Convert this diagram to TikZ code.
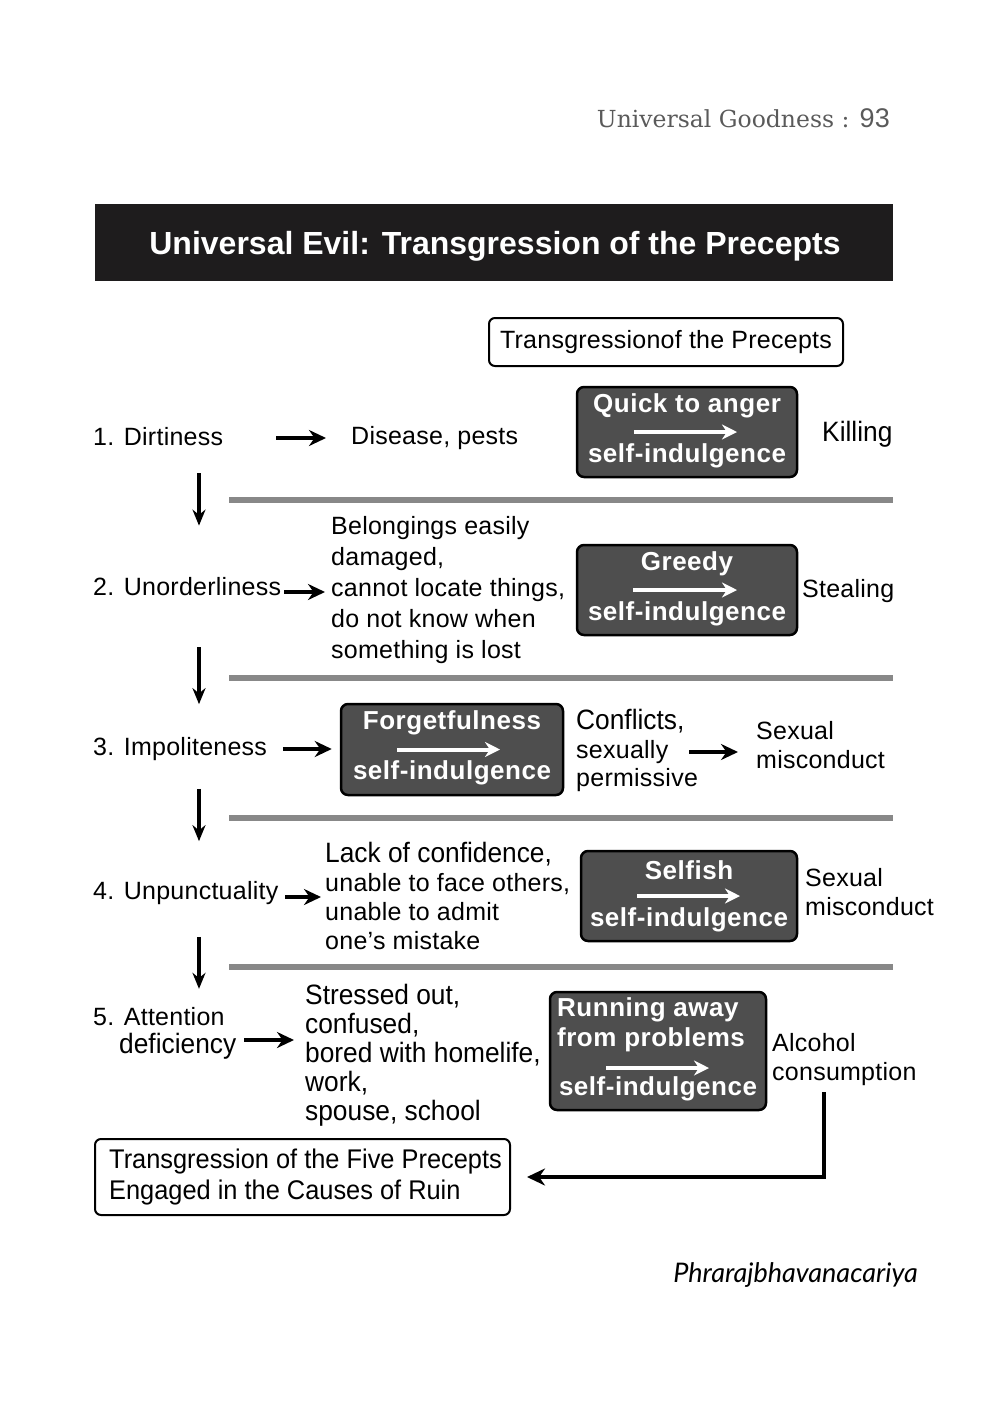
\documentclass[tikz,border=0pt]{standalone}
\usepackage{fontspec}
\usetikzlibrary{arrows.meta,calc}
\setmainfont{Liberation Sans}
\newfontfamily\regf{Liberation Sans}[LetterSpace=1]
\newfontfamily\boldf{Liberation Sans}[LetterSpace=2]
\newfontfamily\narf{Liberation Sans}[FakeStretch=0.94]
\newfontfamily\serf{DejaVu Serif}
\newfontfamily\sigf{Lato}
\definecolor{boxgray}{RGB}{78,78,78}
\definecolor{bargray}{RGB}{136,136,136}
\definecolor{headgray}{RGB}{90,90,90}
\definecolor{banner}{RGB}{30,28,29}
\tikzset{
  txt/.style={font=\regf\fontsize{25}{31}\selectfont, inner sep=0pt, align=left},
  nar/.style={font=\narf\fontsize{28}{29}\selectfont, inner sep=0pt, align=left},
  dbox/.style={draw=black, line width=2.5pt, fill=boxgray, rounded corners=7pt, inner sep=0pt},
  btxt/.style={font=\boldf\bfseries\fontsize{26}{30}\selectfont, text=white, inner sep=0pt, align=left},
  warr/.style={white, line width=4pt, -{Stealth[length=15pt,width=15pt]}},
  harr/.style={black, line width=4pt, -{Stealth[length=17pt,width=16pt]}},
  varr/.style={black, line width=3.5pt, -{Stealth[length=16pt,width=13pt]}},
  graybar/.style={bargray, line width=6pt},
  wbox/.style={draw=black, line width=2pt, rounded corners=6pt, inner sep=0pt},
}
\begin{document}
\begin{tikzpicture}[x=1pt,y=-1pt]
\useasboundingbox (0,0) rectangle (1000,1419);
% header
\node[anchor=east, inner sep=0pt, text=headgray] (hdr) at (890,118)
  {\serf\fontsize{23.5}{28}\selectfont Universal Goodness : {\regf\fontsize{27}{28}\selectfont 93}};
% banner
\node[fill=banner, minimum width=798pt, minimum height=77pt, inner sep=0pt] (ban) at (494,242.5) {};
\node[text=white, inner sep=0pt, font=\bfseries\fontsize{32}{36}\selectfont] (bant) at (495,246)
  {Universal Evil: Transgression of the Precepts};
% top box
\node[wbox, minimum width=354pt, minimum height=48pt] (top) at (666,342) {};
\node[txt] (topt) at (666,342) {Transgressionof the Precepts};
% bars
\coordinate (bl1) at (229,500); \coordinate (br1) at (893,500);
\coordinate (bl2) at (229,678); \coordinate (br2) at (893,678);
\coordinate (bl3) at (229,818); \coordinate (br3) at (893,818);
\coordinate (bl4) at (229,967); \coordinate (br4) at (893,967);
\draw[graybar] (bl1) -- (br1);
\draw[graybar] (bl2) -- (br2);
\draw[graybar] (bl3) -- (br3);
\draw[graybar] (bl4) -- (br4);
% row 1
\node[txt, anchor=west] (r1) at (93,437) {1. Dirtiness};
\node[txt, anchor=west] (r1t) at (351,438) {Disease, pests};
\node[dbox, minimum width=220pt, minimum height=90pt] (b1) at (687,432) {};
\node[btxt] (b1a) at (687,406) {Quick to anger};
\node[btxt] (b1b) at (687,456) {self-indulgence};
\draw[warr] ($(b1)+(-53,0)$) -- ($(b1)+(50,0)$);
\node[nar, anchor=west] (r1r) at (822,434) {Killing};
\draw[harr] ($(r1t.west |- 0,438)+(-75,0)$) -- ($(r1t.west |- 0,438)+(-25,0)$);
% row 2
\node[txt, anchor=west] (r2) at (93,587) {2. Unorderliness};
\node[txt, anchor=west] (r2t) at (331,590) {Belongings easily\\damaged,\\cannot locate things,\\do not know when\\something is lost};
\node[dbox, minimum width=220pt, minimum height=90pt] (b2) at (687,590) {};
\node[btxt] (b2a) at (687,564) {Greedy};
\node[btxt] (b2b) at (687,614) {self-indulgence};
\draw[warr] ($(b2)+(-54,0)$) -- ($(b2)+(50,0)$);
\node[txt, anchor=west] (r2r) at (802,591) {Stealing};
\draw[harr, shorten >=6pt] ($(r2t.west |- 0,592)+(-47,0)$) -- (r2t.west |- 0,592);
% row 3
\node[txt, anchor=west] (r3) at (93,749) {3. Impoliteness};
\node[dbox, minimum width=222pt, minimum height=91pt] (b3) at (452,749.5) {};
\node[btxt] (b3a) at (452,723) {Forgetfulness};
\node[btxt] (b3b) at (452,773) {self-indulgence};
\draw[warr] ($(b3)+(-55,0)$) -- ($(b3)+(48,0)$);
\node[txt, anchor=west] (r3t) at (576,750) {{\narf\fontsize{28}{29}\selectfont Conflicts,}\\[-2pt]sexually\\[-3pt]permissive};
\node[txt, anchor=west] (r3r) at (756,745) {Sexual\\[-2pt]misconduct};
\draw[harr, shorten >=8pt] ($(b3.west |- 0,749)+(-57,0)$) -- (b3.west |- 0,749);
\draw[harr, shorten >=18pt] ($(r3r.west |- 0,752)+(-67,0)$) -- (r3r.west |- 0,752);
% row 4
\node[txt, anchor=west] (r4) at (93,893) {4. Unpunctuality};
\node[txt, anchor=west] (r4t) at (325,896) {{\narf\fontsize{28}{29}\selectfont Lack of confidence,}\\[-2pt]unable to face others,\\[-2pt]unable to admit\\[-2pt]one’s mistake};
\node[dbox, minimum width=216pt, minimum height=90pt] (b4) at (689,896) {};
\node[btxt] (b4a) at (689,870) {Selfish};
\node[btxt] (b4b) at (689,920) {self-indulgence};
\draw[warr] ($(b4)+(-52,0)$) -- ($(b4)+(51,0)$);
\node[txt, anchor=west] (r4r) at (805,892) {Sexual\\[-2pt]misconduct};
\draw[harr, shorten >=4pt] ($(r4t.west |- 0,897)+(-40,0)$) -- (r4t.west |- 0,897);
% row 5
\node[txt, anchor=west] (r5) at (93,1033) {5. Attention\\[-3pt]\hspace*{26pt}{\narf\fontsize{28}{29}\selectfont deficiency}};
\node[nar, anchor=west] (r5t) at (305,1055) {Stressed out,\\confused,\\bored with homelife,\\work,\\spouse, school};
\node[dbox, minimum width=216pt, minimum height=118pt] (b5) at (658,1051) {};
\node[btxt, anchor=west] (b5a) at (557,1025) {Running away\\from problems};
\node[btxt] (b5b) at (658,1089) {self-indulgence};
\draw[warr] ($(b5)+(-52,17)$) -- ($(b5)+(51,17)$);
\node[txt, anchor=west] (r5r) at (772,1060) {Alcohol\\[-2pt]consumption};
\draw[harr, shorten >=11pt] ($(r5t.west |- 0,1040)+(-61,0)$) -- (r5t.west |- 0,1040);
% vertical arrows
\coordinate (colx) at (199,0);
\draw[varr, shorten <=27pt, shorten >=52pt] (r1.south -| colx) -- (r2.north -| colx);
\draw[varr, shorten <=51pt, shorten >=33pt] (r2.south -| colx) -- (r3.north -| colx);
\draw[varr, shorten <=28pt, shorten >=40pt] (r3.south -| colx) -- (r4.north -| colx);
\draw[varr, shorten <=32pt, shorten >=18pt] (r4.south -| colx) -- (r5.north -| colx);
% bottom
\node[wbox, minimum width=415pt, minimum height=76pt] (ruin) at (302.5,1177) {};
\node[nar, anchor=west, font=\narf\fontsize{27}{31}\selectfont] (ruint) at (109,1177) {Transgression of the Five Precepts\\Engaged in the Causes of Ruin};
\coordinate (alc) at (824,1092);
\draw[black, line width=4pt, -{Stealth[length=18pt,width=17pt]}, shorten >=16pt] (alc) |- (ruin.east);
% signature
\node[anchor=east, inner sep=0pt] (sig) at (918,1275) {\sigf\itshape\fontsize{27}{30}\selectfont Phrarajbhavanacariya};
\end{tikzpicture}
\end{document}
